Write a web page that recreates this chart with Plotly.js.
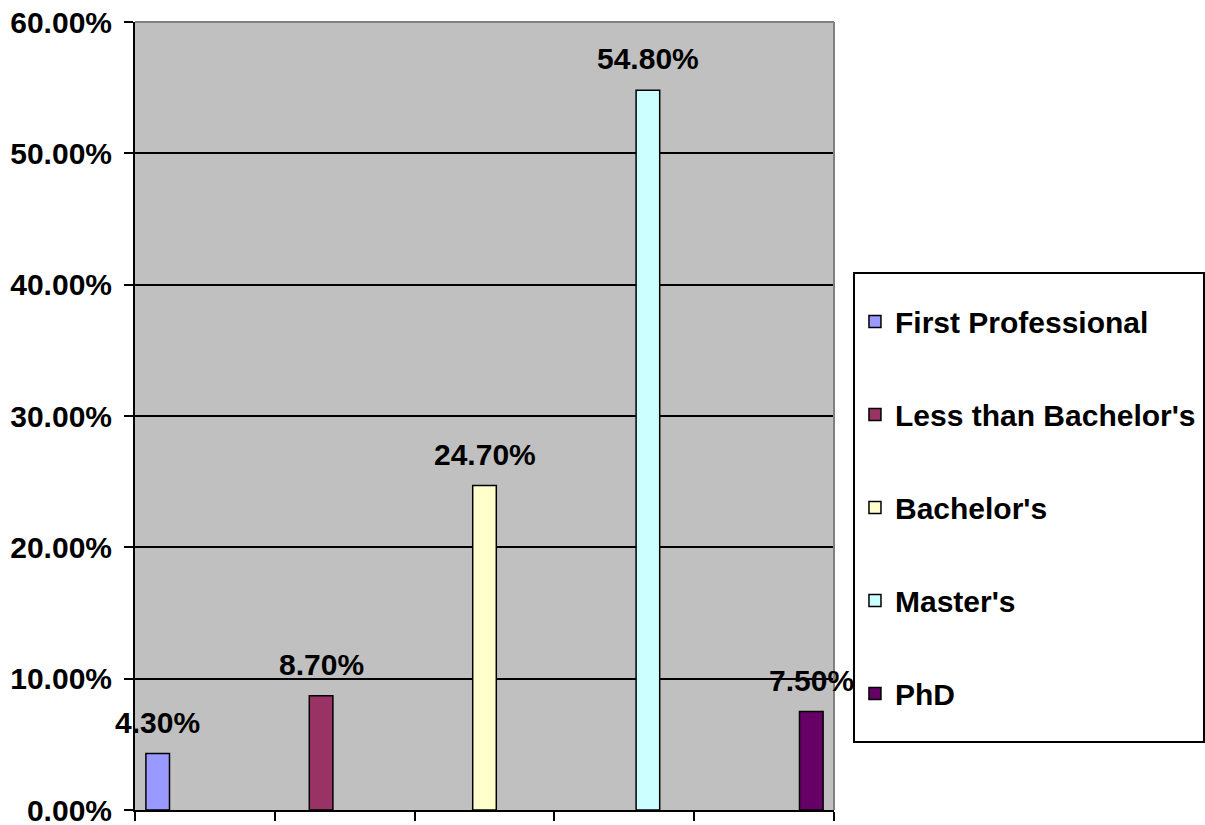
<!DOCTYPE html>
<html>
<head>
<meta charset="utf-8">
<script src="https://cdn.plot.ly/plotly-3.0.1.min.js"></script>
<style>
  html, body { margin: 0; padding: 0; background: #ffffff; }
  #chart { width: 1205px; height: 825px; }
</style>
</head>
<body>
<div id="chart"></div>
<script>
// Highest degree held, share of respondents
const degrees = ["First Professional", "Less than Bachelor's", "Bachelor's", "Master's", "PhD"];
const shares = [0.043, 0.087, 0.247, 0.548, 0.075];
const barColors = ["#9999FF", "#993366", "#FFFFCC", "#CCFFFF", "#660066"];
const yTicks = [0, 0.1, 0.2, 0.3, 0.4, 0.5, 0.6];

const FONT = "Liberation Sans, Arial, Helvetica, sans-serif";
const FONT_SIZE = 30;
const BAR_GAP = 0.156;
const N = degrees.length;

// One series per degree; each series carries a value only in its own category,
// so the grouped layout staggers the bars across the axis.
const traces = degrees.map((name, i) => ({
  type: "bar",
  name: name,
  legendgroup: "g" + i,
  x: degrees,
  y: degrees.map((_, j) => (j === i ? shares[i] : null)),
  marker: { color: barColors[i], line: { color: "#000000", width: 1.5 } },
  hoverinfo: "skip"
}));

// Value labels above each bar, centred on that bar's slot in the group
const slot = (1 - BAR_GAP) / N;
const labels = degrees.map((name, i) => ({
  xref: "x",
  yref: "y",
  x: i - 0.5 + BAR_GAP / 2 + slot * (i + 0.5),
  y: shares[i],
  yanchor: "bottom",
  xanchor: "center",
  yshift: 13,
  showarrow: false,
  text: (shares[i] * 100).toFixed(2) + "%",
  font: { family: FONT, size: FONT_SIZE, color: "#000000", weight: "bold" }
}));

const layout = {
  width: 1205,
  height: 825,
  margin: { l: 135, r: 371, t: 22, b: 15, autoexpand: false },
  paper_bgcolor: "#ffffff",
  plot_bgcolor: "#C0C0C0",
  barmode: "group",
  bargap: BAR_GAP,
  bargroupgap: 0,
  font: { family: FONT, size: FONT_SIZE, color: "#000000", weight: "bold" },
  xaxis: {
    type: "category",
    range: [-0.5, N - 0.5],
    showticklabels: false,
    tickson: "boundaries",
    ticks: "outside",
    ticklen: 9,
    tickwidth: 2,
    tickcolor: "#000000",
    showline: true,
    linecolor: "#000000",
    linewidth: 2,
    showgrid: false,
    zeroline: false,
    fixedrange: true
  },
  yaxis: {
    range: [0, 0.6],
    tickvals: yTicks,
    tickformat: ".2%",
    ticks: "outside",
    ticklen: 9,
    tickwidth: 2,
    tickcolor: "#000000",
    ticklabelstandoff: 6,
    ticklabeloverflow: "allow",
    showline: true,
    linecolor: "#000000",
    linewidth: 2,
    showgrid: true,
    gridcolor: "#000000",
    gridwidth: 2,
    zeroline: false,
    tickfont: { family: FONT, size: FONT_SIZE, color: "#000000", weight: "bold" },
    fixedrange: true
  },
  legend: {
    x: 1.030,
    xanchor: "left",
    y: 0.3839,
    yanchor: "middle",
    traceorder: "grouped",
    tracegroupgap: 51,
    bgcolor: "rgba(0,0,0,0)",
    borderwidth: 0,
    font: { family: FONT, size: FONT_SIZE, color: "#000000", weight: "bold" }
  },
  shapes: [
    // plot-area frame on the top and right edges
    { type: "line", xref: "paper", yref: "paper", x0: 0, x1: 1, y0: 1, y1: 1,
      line: { color: "#808080", width: 2 }, layer: "above" },
    { type: "line", xref: "paper", yref: "paper", x0: 1, x1: 1, y0: 0, y1: 1,
      line: { color: "#808080", width: 2 }, layer: "above" },
    // legend box
    { type: "rect", xref: "paper", yref: "paper", x0: 1.0286, x1: 1.5293, y0: 0.0863, y1: 0.6815,
      line: { color: "#000000", width: 2 }, fillcolor: "#ffffff", layer: "below" }
  ],
  annotations: labels,
  showlegend: true
};

Plotly.newPlot("chart", traces, layout, { displayModeBar: false, staticPlot: true });
</script>
</body>
</html>
